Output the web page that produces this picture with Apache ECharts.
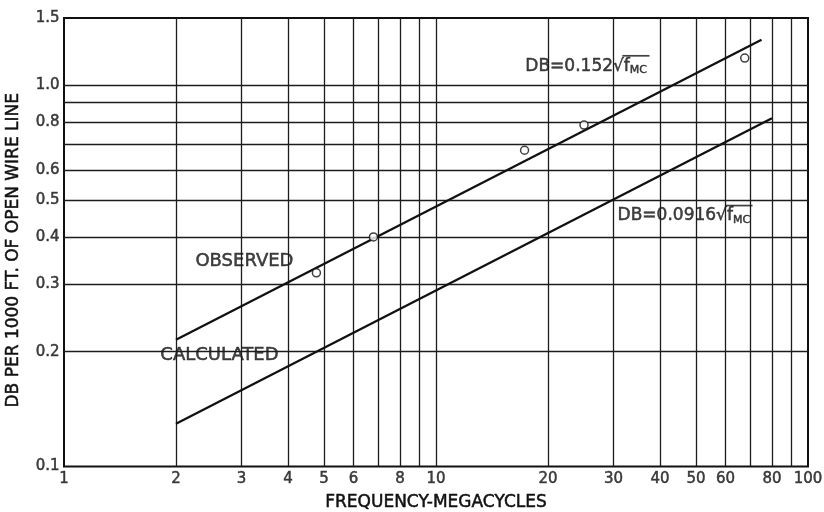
<!DOCTYPE html>
<html><head><meta charset="utf-8">
<script src="https://cdn.jsdelivr.net/npm/echarts@6/dist/echarts.min.js"></script>
<style>html,body{margin:0;padding:0;background:#fff}#c{width:824px;height:512px}</style>
</head><body><div id="c"></div>
<script>
// ---- data ----
const xGridValues = [2, 3, 4, 5, 6, 7, 8, 9, 10, 20, 30, 40, 50, 60, 70, 80, 90];
const yGridValues = [0.2, 0.3, 0.4, 0.5, 0.6, 0.7, 0.8, 0.9, 1.0];
const xTickLabels = [1, 2, 3, 4, 5, 6, 8, 10, 20, 30, 40, 50, 60, 80, 100];
const yTickLabels = [0.1, 0.2, 0.3, 0.4, 0.5, 0.6, 0.8, 1.0, 1.5];
const observedLineFreq = [2, 75];
const observedLineDb = [0.215, 1.316];
const calculatedLineFreq = [2, 80];
const calculatedLineDb = [0.1295, 0.819];
const observedFreq = [4.77, 6.79, 17.3, 25.0, 67.6];
const observedDb = [0.322, 0.40, 0.675, 0.786, 1.178];

const FONT = 'DejaVu Sans';
const INK = '#111';
const STROKE = { textBorderColor: INK, textBorderWidth: 0.5 };

function measure(txt, size) {
  const c = document.createElement('canvas').getContext('2d');
  c.font = size + 'px "' + FONT + '"';
  return c.measureText(txt).width;
}

function eqLabel(coef, pad) {
  const head = 'DB=' + coef;
  const gapW = measure(head, 17) + measure('√', 17) - 1.5;
  const barW = measure('f', 17) + measure('MC', 11) + 4;
  const base = Object.assign({ fontSize: 17, lineHeight: 19, color: INK, fontFamily: FONT }, STROKE);
  return {
    show: true, position: 'right', distance: 0,
    backgroundColor: '#fff', padding: pad,
    formatter: '{g| }{b| }\n{t|' + head + '}{r|√}{f|f}{s|MC}',
    rich: {
      g: { width: gapW, height: 2, lineHeight: 2 },
      b: { width: barW, height: 1.7, lineHeight: 2, backgroundColor: INK },
      t: base, r: base, f: base,
      s: Object.assign({}, base, { fontSize: 11, verticalAlign: 'bottom' })
    }
  };
}

function plainLabel(text, pad, size) {
  return Object.assign({ show: true, position: 'right', distance: 0, formatter: text,
    backgroundColor: '#fff', padding: pad, fontSize: size, color: INK, fontFamily: FONT }, STROKE);
}

const chart = echarts.init(document.getElementById('c'), null, { renderer: 'canvas' });
const option = {
  animation: false,
  backgroundColor: '#fff',
  textStyle: { fontFamily: FONT, color: INK },
  grid: { left: 64, right: 16, top: 18, bottom: 45.5, outerBoundsMode: 'none', containLabel: false,
    show: true, borderColor: INK, borderWidth: 2, backgroundColor: 'transparent' },
  xAxis: {
    type: 'log', logBase: 10, min: 1, max: 100,
    axisLine: { show: false }, axisTick: { show: false }, axisLabel: { show: false }, splitLine: { show: false },
    name: 'FREQUENCY-MEGACYCLES', nameLocation: 'middle', nameGap: 28,
    nameTextStyle: Object.assign({ fontSize: 17, color: INK, fontFamily: FONT }, STROKE)
  },
  yAxis: {
    type: 'log', logBase: 10, min: 0.1, max: 1.5,
    axisLine: { show: false }, axisTick: { show: false }, axisLabel: { show: false }, splitLine: { show: false },
    name: 'DB PER 1000 FT. OF OPEN WIRE LINE', nameLocation: 'middle', nameGap: 42, nameRotate: 90,
    nameTextStyle: Object.assign({ fontSize: 17, color: INK, fontFamily: FONT, padding: [0, 16, 0, 0] }, STROKE)
  },
  series: [
    {
      name: 'grid', type: 'line', data: [[1, 0.1]], symbol: 'none', silent: true, z: 1,
      lineStyle: { opacity: 0 },
      markLine: {
        silent: true, animation: false, symbol: ['none', 'none'], label: { show: false },
        lineStyle: { color: '#1c1c1c', width: 1.3, type: 'solid' },
        emphasis: { disabled: true },
        data: xGridValues.map(v => ({ xAxis: v })).concat(yGridValues.map(v => ({ yAxis: v })))
      }
    },
    {
      name: 'xTicks', type: 'scatter', symbolSize: 1, z: 2, silent: true,
      itemStyle: { color: 'transparent' },
      data: xTickLabels.map(v => [v, 0.1]),
      label: Object.assign({ show: true, position: 'bottom', distance: 5, fontSize: 15, color: INK, fontFamily: FONT,
        formatter: p => String(p.value[0]) }, STROKE)
    },
    {
      name: 'yTicks', type: 'scatter', symbolSize: 1, z: 2, silent: true,
      itemStyle: { color: 'transparent' },
      data: yTickLabels.map(v => [1, v]),
      label: Object.assign({ show: true, position: 'left', distance: 4, fontSize: 15, color: INK, fontFamily: FONT,
        formatter: p => p.value[1].toFixed(1) }, STROKE)
    },
    {
      name: 'annotations', type: 'scatter', symbolSize: 1, z: 3, silent: true,
      itemStyle: { color: 'transparent' },
      data: [
        { value: [2.14, 0.346], label: plainLabel('OBSERVED', [7, 8, 7, 8], 18) },
        { value: [1.68, 0.196], label: plainLabel('CALCULATED', [9, 9, 7, 12], 18) },
        { value: [16.7, 1.124], label: eqLabel('0.152', [6, 6, 7, 6]) },
        { value: [30.3, 0.455], label: eqLabel('0.0916', [6, 6, 7, 2]) }
      ]
    },
    {
      name: 'observed fit', type: 'line', symbol: 'none', z: 5, silent: true,
      lineStyle: { color: INK, width: 2.3 },
      data: observedLineFreq.map((f, i) => [f, observedLineDb[i]])
    },
    {
      name: 'calculated', type: 'line', symbol: 'none', z: 5, silent: true,
      lineStyle: { color: INK, width: 2.3 },
      data: calculatedLineFreq.map((f, i) => [f, calculatedLineDb[i]])
    },
    {
      name: 'observed', type: 'scatter', symbol: 'circle', symbolSize: 8, z: 6, silent: true,
      itemStyle: { color: '#fff', borderColor: INK, borderWidth: 1.5 },
      data: observedFreq.map((f, i) => [f, observedDb[i]])
    }
  ]
};
chart.setOption(option);
</script>
</body></html>
